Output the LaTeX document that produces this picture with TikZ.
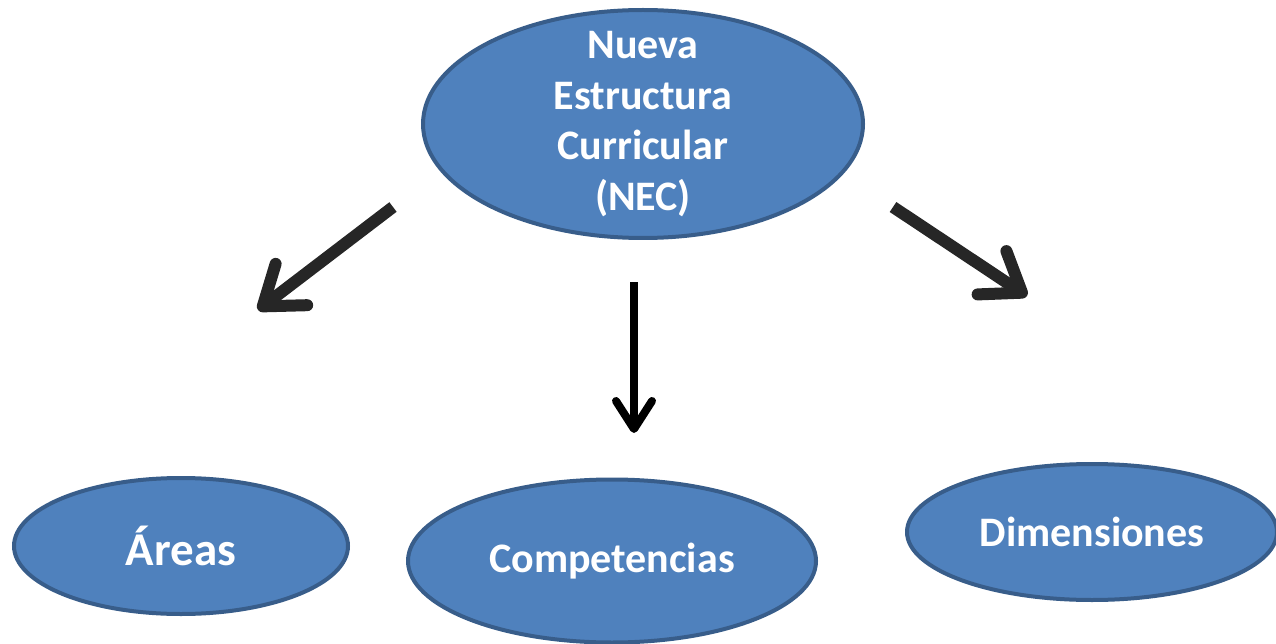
\documentclass[tikz,border=0pt]{standalone}
\usepackage{fontspec}
\setmainfont{Carlito}
\usetikzlibrary{shapes.geometric,arrows.meta}
\definecolor{necfill}{HTML}{4F81BD}
\definecolor{necline}{HTML}{385D8A}
\definecolor{arrowgray}{HTML}{262626}
\tikzset{
  idea/.style={ellipse, draw=necline, line width=4pt, fill=necfill, inner sep=0pt,
    text=white, font=\fontsize{42}{50.5}\selectfont\bfseries, align=center},
  bigarrow/.style={arrowgray, line width=12pt, -{Straight Barb[round, length=36pt, width=52pt]}},
  thinarrow/.style={black, line width=8pt, -{Straight Barb[round, length=28pt, width=36pt]}}
}
\begin{document}
\begin{tikzpicture}[x=1pt, y=-1pt]
  \useasboundingbox (0,0) rectangle (1276,644);
  % ovals
  \node[idea, inner ysep=-14pt, minimum width=440pt, minimum height=228pt] (nec) at (643,124) {Nueva\\Estructura\\Curricular\\(NEC)};
  \node[idea, minimum width=334pt, minimum height=136pt, font=\fontsize{47}{50}\selectfont\bfseries] (areas) at (181,546) {Áreas};
  \node[idea, minimum width=408pt, minimum height=163pt] (comp) at (612,561) {Competencias};
  \node[idea, minimum width=370pt, minimum height=136pt] (dim) at (1092,532) {Dimensiones};
  % arrows
  \coordinate (areasfrom) at (393,207);
  \coordinate (areasto) at (258,310);
  \coordinate (compfrom) at (634,282);
  \coordinate (compto) at (634,433);
  \coordinate (dimfrom) at (893,207);
  \coordinate (dimto) at (1027,296);
  \draw[bigarrow] (areasfrom) -- (areasto);
  \draw[thinarrow] (compfrom) -- (compto);
  \draw[bigarrow] (dimfrom) -- (dimto);
\end{tikzpicture}
\end{document}
